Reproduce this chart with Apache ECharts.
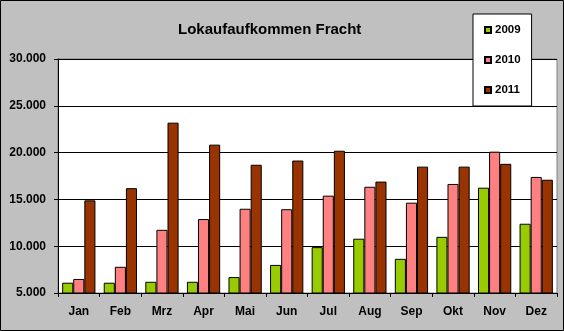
<!DOCTYPE html>
<html>
<head>
<meta charset="utf-8">
<script src="https://cdn.jsdelivr.net/npm/echarts@6/dist/echarts.min.js"></script>
<style>
  html, body { margin: 0; padding: 0; background: #C0C0C0; }
  #chart { width: 564px; height: 331px; }
</style>
</head>
<body>
<div id="chart"></div>
<script>
// Monthly freight locomotive volume per year
const months = ['Jan', 'Feb', 'Mrz', 'Apr', 'Mai', 'Jun', 'Jul', 'Aug', 'Sep', 'Okt', 'Nov', 'Dez'];
const years = ['2009', '2010', '2011'];
const values2009 = [6100, 6100, 6200, 6200, 6700, 8000, 9900, 10800, 8650, 11000, 16250, 12400];
const values2010 = [6500, 7800, 11750, 12900, 14000, 13950, 15400, 16350, 14650, 16650, 20100, 17400];
const values2011 = [14900, 16200, 23200, 20850, 18700, 19150, 20200, 16900, 18500, 18500, 18800, 17100];
const yTicks = [5000, 10000, 15000, 20000, 25000, 30000];

const colors = ['#99CC00', '#FF8080', '#993300'];
const font = 'Arial, "Liberation Sans", sans-serif';

function fmt(v) {
  return String(v).replace(/\B(?=(\d{3})+(?!\d))/g, '.');
}

const chart = echarts.init(document.getElementById('chart'), null, { renderer: 'canvas' });

const seriesData = [values2009, values2010, values2011];

chart.setOption({
  animation: false,
  backgroundColor: '#C0C0C0',
  title: {
    text: 'Lokaufaufkommen Fracht',
    left: 173,
    top: 17,
    textStyle: { fontFamily: font, fontSize: 15, fontWeight: 'bold', color: '#000' }
  },
  grid: {
    left: 58, top: 59, right: 7, bottom: 38,
    show: true,
    backgroundColor: '#FFFFFF',
    borderColor: '#808080',
    borderWidth: 1
  },
  legend: {
    data: years,
    orient: 'vertical',
    left: 473,
    top: 14,
    padding: [10, 11, 10, 11],
    itemWidth: 6,
    itemHeight: 6,
    itemGap: 18,
    icon: 'rect',
    textStyle: { fontFamily: font, fontSize: 11.5, fontWeight: 'bold', color: '#000', padding: [0, 0, 0, -1] },
    backgroundColor: '#FFFFFF',
    borderColor: '#000000',
    borderWidth: 1,
    z: 10
  },
  xAxis: {
    type: 'category',
    data: months,
    axisLine: { lineStyle: { color: '#000', width: 1 } },
    axisTick: { show: true, length: 4, lineStyle: { color: '#000' } },
    axisLabel: { fontFamily: font, fontSize: 12, fontWeight: 'bold', color: '#000', margin: 13 }
  },
  yAxis: {
    type: 'value',
    min: yTicks[0],
    max: yTicks[yTicks.length - 1],
    interval: yTicks[1] - yTicks[0],
    axisLine: { show: true, lineStyle: { color: '#000', width: 1 } },
    axisTick: { show: true, length: 4, lineStyle: { color: '#000' } },
    splitLine: { show: true, lineStyle: { color: '#000', width: 1 } },
    axisLabel: {
      fontFamily: font, fontSize: 12, fontWeight: 'bold', color: '#000', margin: 12,
      formatter: fmt
    }
  },
  series: years.map((y, i) => ({
    name: y,
    type: 'bar',
    data: seriesData[i],
    barGap: '0%',
    barCategoryGap: '20%',
    itemStyle: { color: colors[i], borderColor: '#000', borderWidth: 1 }
  })),
  graphic: [{
    type: 'rect',
    shape: { x: 0.5, y: 0.5, width: 563, height: 330 },
    style: { fill: 'none', stroke: '#000', lineWidth: 1 },
    z: 100
  }]
});
</script>
</body>
</html>
